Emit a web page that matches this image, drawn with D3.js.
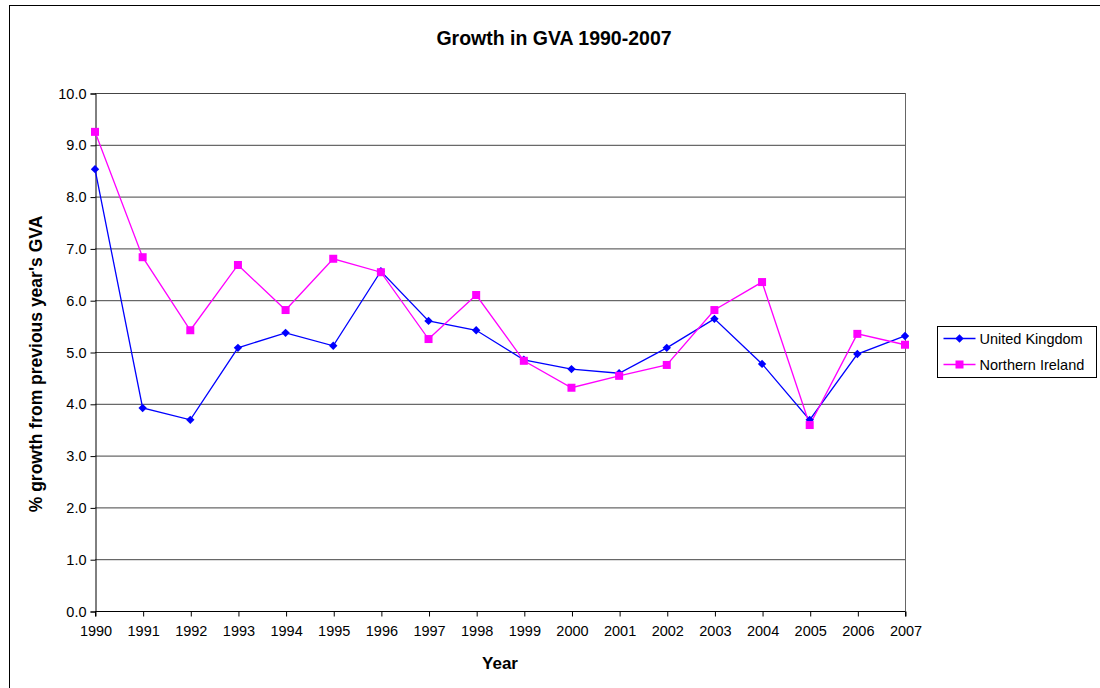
<!DOCTYPE html>
<html>
<head>
<meta charset="utf-8">
<script src="https://cdn.jsdelivr.net/npm/d3@7"></script>
<style>
  body { margin: 0; background: #fff; }
  text { font-family: Arial, "Liberation Sans", sans-serif; fill: #000; }
</style>
</head>
<body>
<div id="chart"></div>
<script>
// chart data
var years = ["1990","1991","1992","1993","1994","1995","1996","1997","1998",
             "1999","2000","2001","2002","2003","2004","2005","2006","2007"];
var ukValues = [8.53, 3.92, 3.69, 5.08, 5.37, 5.12, 6.56, 5.60, 5.42,
                4.85, 4.67, 4.59, 5.08, 5.64, 4.77, 3.69, 4.96, 5.31];
var niValues = [9.25, 6.83, 5.42, 6.68, 5.81, 6.80, 6.54, 5.25, 6.10,
                4.83, 4.31, 4.54, 4.75, 5.81, 6.35, 3.59, 5.35, 5.14];
var yTicks = [0, 1, 2, 3, 4, 5, 6, 7, 8, 9, 10];
var seriesNames = ["United Kingdom", "Northern Ireland"];

var svgWidth = 1100, svgHeight = 688;
var margin = { top: 93, left: 95 };
var chartWidth = 810, chartHeight = 518;

var svg = d3.select("#chart").append("svg")
  .attr("width", svgWidth)
  .attr("height", svgHeight);

// outer chart border
svg.append("rect")
  .attr("x", 9.5).attr("y", 5.5)
  .attr("width", svgWidth).attr("height", svgHeight)
  .attr("fill", "none").attr("stroke", "#000").attr("stroke-width", 1);

var chartGroup = svg.append("g")
  .attr("transform", `translate(${margin.left}, ${margin.top})`);

var xScale = d3.scalePoint().domain(years).range([0, chartWidth]);
var yScale = d3.scaleLinear().domain([0, 10]).range([chartHeight, 0]);

// gridlines
chartGroup.selectAll(".grid")
  .data(yTicks)
  .enter()
  .append("line")
  .attr("x1", 0).attr("x2", chartWidth)
  .attr("y1", d => yScale(d) + 0.5).attr("y2", d => yScale(d) + 0.5)
  .attr("stroke", "#444").attr("stroke-width", 1);

// right border of plot area
chartGroup.append("line")
  .attr("x1", chartWidth + 0.5).attr("x2", chartWidth + 0.5)
  .attr("y1", 0).attr("y2", chartHeight)
  .attr("stroke", "#666");

// axes
var leftAxis = d3.axisLeft(yScale).tickValues(yTicks)
  .tickFormat(d3.format(".1f")).tickSize(5).tickPadding(4);
var bottomAxis = d3.axisBottom(xScale).tickSize(5).tickPadding(9);

var yAxisG = chartGroup.append("g").attr("transform", "translate(0.5,0.5)").call(leftAxis);
var xAxisG = chartGroup.append("g").attr("transform", `translate(0.5, ${chartHeight + 0.5})`).call(bottomAxis);
[yAxisG, xAxisG].forEach(function(g) {
  g.select(".domain").attr("stroke", "#000");
  g.selectAll(".tick line").attr("stroke", "#000");
  g.selectAll("text").attr("font-size", "14.5px").attr("fill", "#000")
    .style("font-family", "Arial, 'Liberation Sans', sans-serif");
});
xAxisG.select(".domain").attr("d", `M0,5V0H${chartWidth}V5`);

// lines
var line = d3.line()
  .x((d, i) => xScale(years[i]))
  .y(d => yScale(d));

chartGroup.append("path").datum(ukValues)
  .attr("d", line).attr("fill", "none").attr("stroke", "#0000ff").attr("stroke-width", 1.3);
chartGroup.append("path").datum(niValues)
  .attr("d", line).attr("fill", "none").attr("stroke", "#ff00ff").attr("stroke-width", 1.3);

// markers
chartGroup.selectAll(".ukPoint")
  .data(ukValues)
  .enter()
  .append("path")
  .attr("class", "ukPoint")
  .attr("d", d3.symbol().type(d3.symbolDiamond2).size(45))
  .attr("transform", (d, i) => `translate(${xScale(years[i])}, ${yScale(d)})`)
  .attr("fill", "#0000ff");

chartGroup.selectAll(".niPoint")
  .data(niValues)
  .enter()
  .append("rect")
  .attr("class", "niPoint")
  .attr("x", (d, i) => xScale(years[i]) - 4)
  .attr("y", d => yScale(d) - 4)
  .attr("width", 8).attr("height", 8)
  .attr("fill", "#ff00ff");

// title and axis labels
svg.append("text")
  .attr("x", 554).attr("y", 45)
  .attr("text-anchor", "middle")
  .attr("font-size", "19.5px").attr("font-weight", "bold")
  .text("Growth in GVA 1990-2007");

svg.append("text")
  .attr("x", 500).attr("y", 669)
  .attr("text-anchor", "middle")
  .attr("font-size", "17px").attr("font-weight", "bold")
  .text("Year");

svg.append("text")
  .attr("transform", "translate(42, 364) rotate(-90)")
  .attr("text-anchor", "middle")
  .attr("font-size", "17.5px").attr("font-weight", "bold")
  .text("% growth from previous year's GVA");

// legend
var legend = svg.append("g").attr("transform", "translate(937.5, 326.5)");
legend.append("rect")
  .attr("width", 159).attr("height", 51)
  .attr("fill", "#fff").attr("stroke", "#000");

var legendColors = ["#0000ff", "#ff00ff"];
seriesNames.forEach(function(name, i) {
  var ly = 12 + i * 26;
  legend.append("line")
    .attr("x1", 6).attr("x2", 38).attr("y1", ly).attr("y2", ly)
    .attr("stroke", legendColors[i]).attr("stroke-width", 1.3);
  if (i === 0) {
    legend.append("path")
      .attr("d", d3.symbol().type(d3.symbolDiamond2).size(45))
      .attr("transform", `translate(22, ${ly})`)
      .attr("fill", legendColors[i]);
  } else {
    legend.append("rect")
      .attr("x", 18).attr("y", ly - 4).attr("width", 8).attr("height", 8)
      .attr("fill", legendColors[i]);
  }
  legend.append("text")
    .attr("x", 42).attr("y", ly + 5)
    .attr("font-size", "14.5px")
    .text(name);
});
</script>
</body>
</html>
